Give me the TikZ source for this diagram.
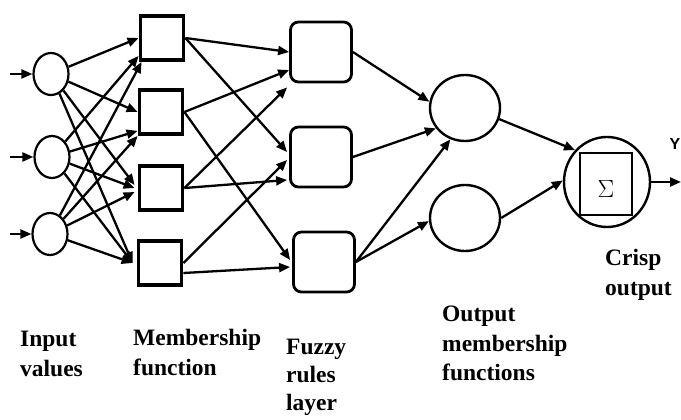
\documentclass[tikz,border=0pt]{standalone}
\usepackage{fontspec}
\setmainfont{Liberation Serif}
\newfontfamily\labelsans{Liberation Sans}
\usetikzlibrary{shapes.geometric,arrows.meta,calc}

\begin{document}
\begin{tikzpicture}[x=1pt,y=-1pt,
  conn/.style={line width=2.3pt,-{Triangle[length=11pt,width=9pt]}},
  inputnode/.style={ellipse,draw,line width=2.2pt,inner sep=0pt,minimum width=35pt,minimum height=42pt},
  mfnode/.style={rectangle,draw,line width=3.8pt,inner sep=0pt,minimum width=43pt,minimum height=44pt},
  rulenode/.style={rectangle,draw,line width=2.8pt,rounded corners=8pt,inner sep=0pt,minimum width=61pt,minimum height=60pt},
  outnode/.style={ellipse,draw,line width=2.4pt,inner sep=0pt,minimum width=70pt,minimum height=66pt},
  caption/.style={anchor=north west,inner sep=0pt,align=left,font=\fontsize{23.5}{29.5}\selectfont\bfseries}
]
\useasboundingbox (0,0) rectangle (681,420);

% input layer
\node[inputnode] (i1) at (51,74) {};
\node[inputnode] (i2) at (52,157) {};
\node[inputnode] (i3) at (50,234) {};
\coordinate (x1) at (10,74);
\coordinate (x2) at (10,157);
\coordinate (x3) at (10,234);

% membership function layer
\node[mfnode] (m1) at (162,38) {};
\node[mfnode] (m2) at (161,112) {};
\node[mfnode] (m3) at (161,188) {};
\node[mfnode] (m4) at (160,263) {};

% fuzzy rules layer
\node[rulenode] (r1) at (321,52) {};
\node[rulenode] (r2) at (321,157) {};
\node[rulenode] (r3) at (324,262) {};

% output membership functions
\node[outnode] (o1) at (465,108) {};
\node[outnode] (o2) at (465,218) {};

% defuzzifier
\node[ellipse,draw,line width=2.4pt,inner sep=0pt,minimum width=86pt,minimum height=90pt] (c) at (607,182) {};
\node[rectangle,draw,line width=2.8pt,inner sep=0pt,minimum width=52pt,minimum height=62pt] (sq) at (606,184) {};
\node[inner sep=0pt,font=\fontsize{25}{25}\selectfont] (sig) at (606,189) {$\Sigma$};
\coordinate (yout) at (681,182);
\node[inner sep=0pt,font=\labelsans\bfseries\fontsize{16}{16}\selectfont] (ylab) at (675,144) {Y};

% inputs
\draw[conn] (x1) -- (i1.west);
\draw[conn] (x2) -- (i2.west);
\draw[conn] (x3) -- (i3.west);

% inputs to membership functions
\draw[conn] (i1) -- (m1.west);
\draw[conn] (i1) -- (m2.west);
\draw[conn] (i1) -- ($(m3.west)+(-3,-3)$);
\draw[conn] (i1) -- ($(m4.west)+(-4,0)$);
\draw[conn] (i2) -- ($(m1.south west)+(0,-6)$);
\draw[conn] (i2) -- ($(m2.south west)+(0,-5)$);
\draw[conn] (i2) -- ($(m3.west)+(-3,0)$);
\draw[conn] (i2) -- ($(m4.west)+(-4,0)$);
\draw[conn] (i3) -- ($(m1.south west)+(3,0)$);
\draw[conn] (i3) -- ($(m2.south west)+(0,0)$);
\draw[conn] (i3) -- ($(m3.west)+(-3,4)$);
\draw[conn] (i3) -- ($(m4.west)+(-4,0)$);

% membership functions to rules
\draw[conn] (m1.east) -- (r1.west);
\draw[conn] (m1.east) -- ($(r2.west)+(-2,-5)$);
\draw[conn] (m2.east) -- ($(r1.west)+(0,18)$);
\draw[conn] (m2.east) -- ($(r3.west)+(-2,-2)$);
\draw[conn] (m3.east) -- ($(r1.south west)+(-2,4)$);
\draw[conn] (m3.east) -- ($(r2.west)+(-2,23)$);
\draw[conn] (m4.east) -- ($(r2.west)+(-2,3)$);
\draw[conn] ($(m4.east)+(0,10)$) -- ($(r3.west)+(-2,5)$);

% rules to output membership functions
\draw[conn] (r1.east) -- (o1.170);
\draw[conn] (r2.east) -- (o1.215);
\draw[conn] (r3.east) -- (o1.245);
\draw[conn] (r3.east) -- (o2.185);

% output membership functions to defuzzifier
\draw[conn] (o1.-18) -- (c.135);
\draw[conn] (o2.east) -- (c.178);
\draw[conn] (c.east) -- (yout);

% layer captions
\node[caption] (t1) at (20,331) {Input\\values};
\node[caption] (t2) at (133,329) {Membership\\function};
\node[caption,font=\fontsize{23.5}{28}\selectfont\bfseries] (t3) at (286,339) {Fuzzy\\rules\\layer};
\node[caption] (t4) at (442,306) {Output\\membership\\functions};
\node[caption] (t5) at (605,249) {Crisp\\output};
\end{tikzpicture}
\end{document}
